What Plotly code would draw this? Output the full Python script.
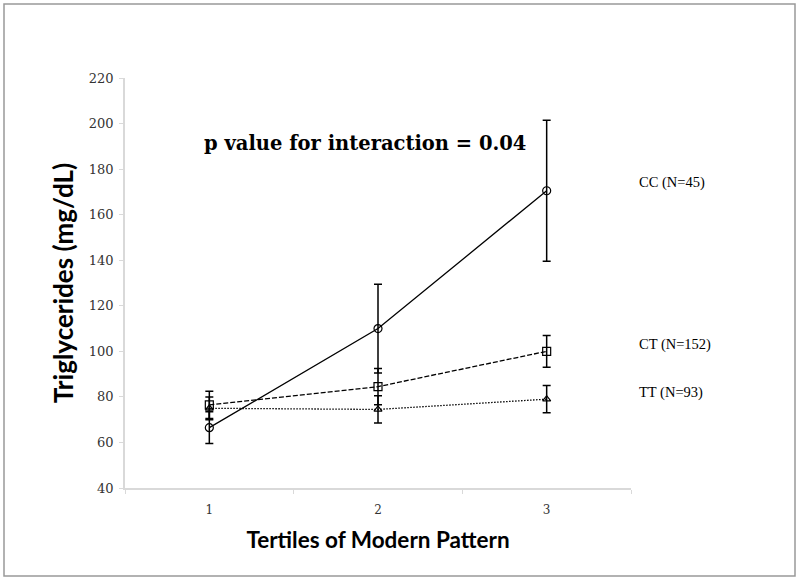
import plotly.graph_objects as go

tertiles = ["1", "2", "3"]

cc_mean = [66.5, 110.0, 170.5]
cc_err = [7.0, 19.5, 31.0]
ct_mean = [76.5, 84.5, 100.0]
ct_err = [6.0, 8.0, 7.0]
tt_mean = [75.0, 74.5, 79.0]
tt_err = [5.0, 6.0, 6.0]

y_ticks = [40, 60, 80, 100, 120, 140, 160, 180, 200, 220]

series = [
    ("CC (N=45)", cc_mean, cc_err, "solid", "circle-open", 8),
    ("CT (N=152)", ct_mean, ct_err, "5px,2px", "square-open", 8),
    ("TT (N=93)", tt_mean, tt_err, "1.5px,1.5px", "triangle-up-open", 7),
]
# label anchor heights (data units) next to the right edge
label_y = [174, 103, 82]

fig = go.Figure()
for name, mean, err, dash, symbol, msize in series:
    fig.add_trace(go.Scatter(
        x=tertiles, y=mean, name=name, mode="lines+markers",
        line=dict(color="black", width=1.3, dash=dash),
        marker=dict(symbol=symbol, size=msize, color="black",
                    line=dict(color="black", width=1.2)),
        error_y=dict(type="data", array=err, visible=True,
                     color="black", thickness=1.5, width=4),
    ))

for (name, *_), ly in zip(series, label_y):
    fig.add_annotation(x=1.0, xref="paper", xanchor="left", xshift=6,
                       y=ly, yref="y", text=name, showarrow=False,
                       font=dict(family="Liberation Serif", size=14.5, color="black"))

fig.add_annotation(x=0.152, xref="paper", xanchor="left", y=0.841, yref="paper",
                   yanchor="middle", text="<b>p value for interaction = 0.04</b>",
                   showarrow=False,
                   font=dict(family="DejaVu Serif", size=19.5, color="black"))

# outer border
fig.add_shape(type="rect", xref="paper", yref="paper",
              x0=-121 / 506, x1=1 + 164 / 506, y0=-88 / 410, y1=1 + 74 / 410,
              line=dict(color="#999999", width=1.5))

fig.update_layout(
    width=800, height=581,
    margin=dict(l=125, r=169, t=78, b=93),
    plot_bgcolor="white", paper_bgcolor="white",
    showlegend=False,
    xaxis=dict(
        type="category", range=[-0.5, 2.5], automargin=False,
        showgrid=False, zeroline=False,
        showline=True, linecolor="#d9d9d9", linewidth=1.5,
        ticks="outside", tickson="boundaries", ticklen=4, tickcolor="#d9d9d9",
        ticklabelstandoff=10,
        tickfont=dict(family="DejaVu Serif", size=12, color="#333333"),
        title=dict(text="<b>Tertiles of Modern Pattern</b>",
                   font=dict(family="Lato", size=22.5, color="black"), standoff=16),
    ),
    yaxis=dict(
        range=[40, 220], tickvals=y_ticks, automargin=False,
        showgrid=False, zeroline=False,
        showline=True, linecolor="#d9d9d9", linewidth=1.5,
        ticks="outside", ticklen=4, tickcolor="#d9d9d9",
        ticklabelstandoff=3,
        tickfont=dict(family="DejaVu Serif", size=13, color="#333333"),
        title=dict(text="<b>Triglycerides (mg/dL)</b>",
                   font=dict(family="Lato", size=26, color="black"), standoff=8),
    ),
)

fig.write_html("out.html", config={"displayModeBar": False},
               post_script="document.body.style.margin = '0';")
